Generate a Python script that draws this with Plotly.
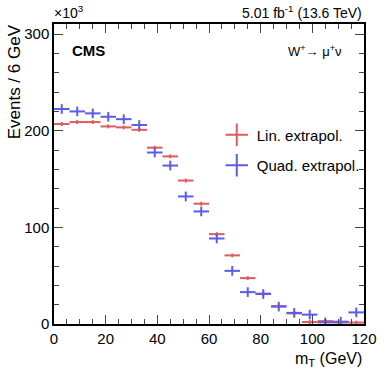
import plotly.graph_objects as go

# bin centres of the 6 GeV m_T bins
mt = [3, 9, 15, 21, 27, 33, 39, 45, 51, 57, 63, 69, 75, 81, 87, 93, 99, 105, 111, 117]
# events in units of 10^3
lin = [207, 209, 209, 204.5, 203.5, 201, 182.5, 173.5, 148.5, 124.5,
       93, 71, 47.5, 31.5, 18.5, 11, 2, 3, 1.5, 1.5]
quad = [222.5, 220, 218, 214.5, 212, 206, 177.5, 164, 132, 116.5,
        88.5, 55, 33, 31, 18, 11.5, 9.7, 1.7, 2.4, 12]
lin_err = [2] * len(mt)
quad_err = [5] * len(mt)
half_bin = [3] * len(mt)

red = "rgb(222,92,92)"
blue = "rgb(92,92,235)"
font = "Liberation Sans, Arial, sans-serif"

fig = go.Figure()

for name, vals, errs, col, grp in [("Lin. extrapol.", lin, lin_err, red, "a"),
                                   ("Quad. extrapol.", quad, quad_err, blue, "b")]:
    fig.add_trace(go.Scatter(
        x=mt, y=vals, mode="markers", marker=dict(size=1, color="rgba(0,0,0,0)"),
        error_x=dict(type="data", array=half_bin, color=col, thickness=2, width=0),
        error_y=dict(type="data", array=errs, color=col, thickness=2, width=0),
        showlegend=False, cliponaxis=True,
    ))
    # legend entry
    fig.add_trace(go.Scatter(
        x=[None], y=[None], mode="markers", name=name, legendgroup=grp,
        marker=dict(symbol="cross-thin", size=20, line=dict(color=col, width=2)),
    ))

fig.update_layout(
    width=389, height=373,
    margin=dict(l=54, r=16, t=24, b=49),
    plot_bgcolor="white", paper_bgcolor="white",
    font=dict(family=font, size=15, color="black"),
    legend=dict(x=0.525, y=0.685, xanchor="left", yanchor="top",
                bgcolor="rgba(0,0,0,0)", font=dict(size=15),
                tracegroupgap=8, itemsizing="trace"),
)

fig.update_xaxes(
    range=[0, 120], tick0=0, dtick=20, ticks="inside", ticklen=9,
    showline=True, linecolor="black", linewidth=1.5, mirror="ticks",
    showgrid=False, zeroline=False, tickfont=dict(size=15),
    minor=dict(dtick=5, ticks="inside", ticklen=5, showgrid=False),
)
fig.update_yaxes(
    range=[0, 310.5], tick0=0, dtick=100, ticks="inside", ticklen=9,
    showline=True, linecolor="black", linewidth=1.5, mirror="ticks",
    showgrid=False, zeroline=False, tickfont=dict(size=15),
    minor=dict(dtick=20, ticks="inside", ticklen=5, showgrid=False),
)

annots = [
    dict(x=1, y=-0.08, xanchor="right", yanchor="top",
         text="m<sub>T</sub> (GeV)", font=dict(size=16)),
    dict(x=-0.128, y=1.005, xanchor="center", yanchor="top", textangle=-90,
         text="Events / 6 GeV", font=dict(size=17)),
    dict(x=-0.005, y=1.005, xanchor="left", yanchor="bottom",
         text="×10<sup>3</sup>", font=dict(size=14)),
    dict(x=1, y=1.005, xanchor="right", yanchor="bottom",
         text="5.01 fb<sup>-1</sup> (13.6 TeV)", font=dict(size=14)),
    dict(x=0.05, y=0.91, xanchor="left", yanchor="middle",
         text="<b>CMS</b>", font=dict(size=15)),
    dict(x=0.935, y=0.91, xanchor="right", yanchor="middle",
         text="W<sup>+</sup>→ μ<sup>+</sup>ν", font=dict(size=13)),
]
for a in annots:
    fig.add_annotation(xref="paper", yref="paper", showarrow=False, **a)

fig.write_html("out.html", config={"displayModeBar": False},
               post_script="document.body.style.margin='0';")
